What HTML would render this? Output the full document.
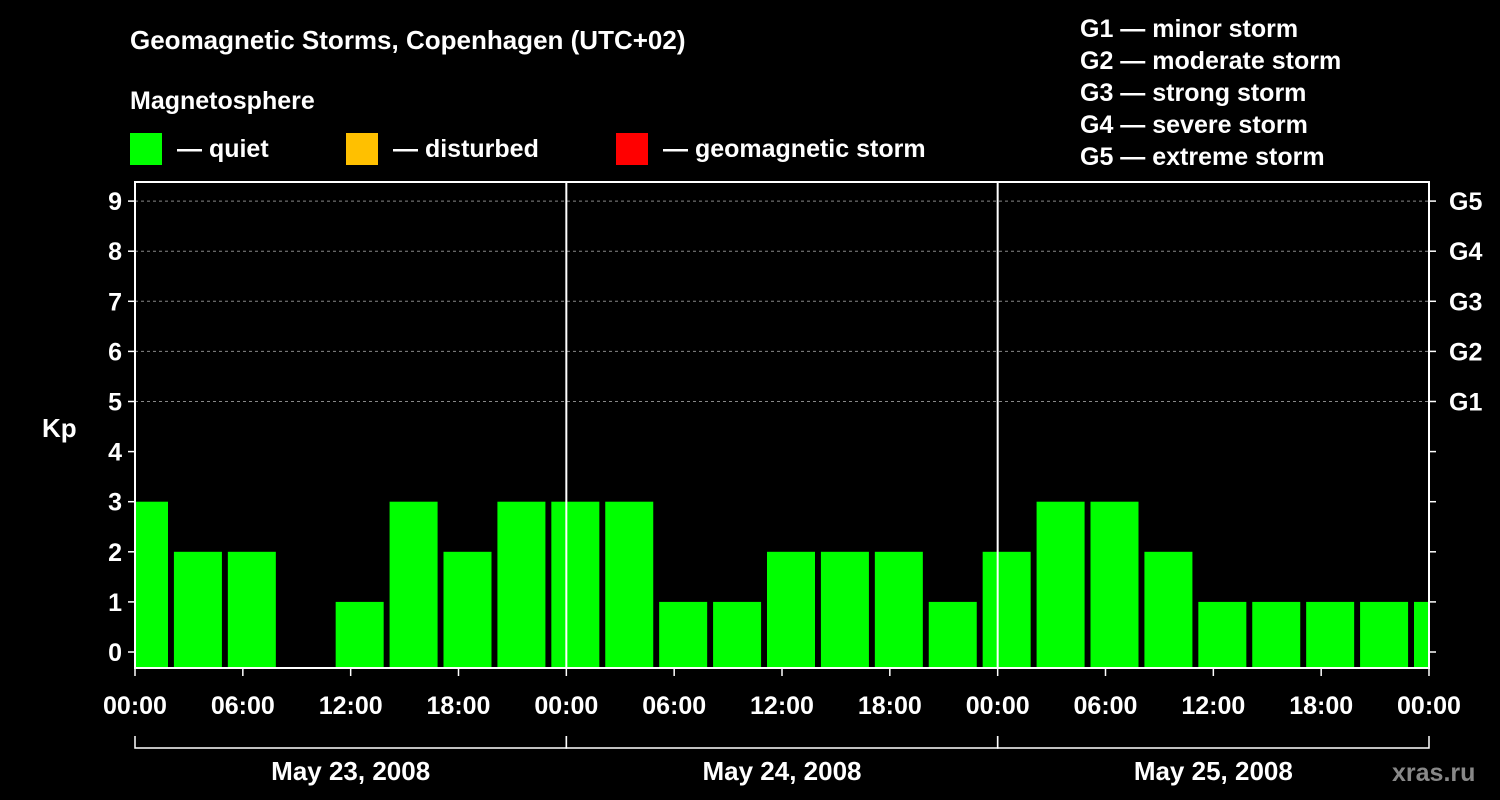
<!DOCTYPE html>
<html><head><meta charset="utf-8"><style>
body{margin:0;background:#000;width:1500px;height:800px;overflow:hidden}
svg{display:block;font-family:"Liberation Sans",Arial,sans-serif;font-weight:bold;fill:#fff}
</style></head><body>
<svg id="c" width="1500" height="800">
<text x="130" y="49" font-size="26">Geomagnetic Storms, Copenhagen (UTC+02)</text>
<text x="130" y="109" font-size="25">Magnetosphere</text>
<g>
<rect x="130" y="133" width="32" height="32" fill="#00ff00"/>
<text x="177" y="157" font-size="25">— quiet</text>
<rect x="346" y="133" width="32" height="32" fill="#ffc000"/>
<text x="393" y="157" font-size="25">— disturbed</text>
<rect x="616" y="133" width="32" height="32" fill="#ff0000"/>
<text x="663" y="157" font-size="25">— geomagnetic storm</text>
</g>
<g font-size="25">
<text x="1080" y="37">G1 — minor storm</text>
<text x="1080" y="69">G2 — moderate storm</text>
<text x="1080" y="101">G3 — strong storm</text>
<text x="1080" y="133">G4 — severe storm</text>
<text x="1080" y="165">G5 — extreme storm</text>
</g>
<g id="plot"></g>
<text x="42" y="437" font-size="26">Kp</text>
<text x="1392" y="781" font-size="25" fill="#888" style="fill:#888">xras.ru</text>
</svg>
<script>
const kpValues=[3,2,2,null,1,3,2,3,3,3,1,1,2,2,2,1,2,3,3,2,1,1,1,1,1];
const yTicks=[0,1,2,3,4,5,6,7,8,9];
const gLabels=["G1","G2","G3","G4","G5"];
const xTickLabels=["00:00","06:00","12:00","18:00","00:00","06:00","12:00","18:00","00:00","06:00","12:00","18:00","00:00"];
const dateLabels=["May 23, 2008","May 24, 2008","May 25, 2008"];
const NS="http://www.w3.org/2000/svg";
const L=135,R=1429,T=182,B=668;
const hourW=(R-L)/72;
const y=k=>652-50.1*k;
const x=h=>L+h*hourW;
const g=document.getElementById('plot');
function mk(t,a){const e=document.createElementNS(NS,t);for(const k in a)e.setAttribute(k,a[k]);g.appendChild(e);return e;}
// grid
yTicks.forEach(k=>{
 if(k>=5){const l=mk('line',{x1:L,x2:R,y1:y(k),y2:y(k),stroke:'#888','stroke-dasharray':'3,3','stroke-width':1});
 
 }
 const t=mk('line',{x1:L-7,x2:L,y1:y(k),y2:y(k),stroke:'#fff','stroke-width':1.5});
 
 
 const t2=mk('line',{x1:R,x2:R+7,y1:y(k),y2:y(k),stroke:'#fff','stroke-width':1.5});
 
 
 const tx=mk('text',{x:L-13,y:y(k)+9,'font-size':25,'text-anchor':'end'});tx.textContent=k;
 
 
});
gLabels.forEach((s,i)=>{const tx=mk('text',{x:R+20,y:y(5+i)+9,'font-size':25});tx.textContent=s;
 
 });
// clip
const cp=mk('clipPath',{id:'cl'});const cr=document.createElementNS(NS,'rect');
cr.setAttribute('x',L);cr.setAttribute('y',T);cr.setAttribute('width',R-L);cr.setAttribute('height',B-T);cp.appendChild(cr);
kpValues.forEach((v,i)=>{
 if(v===null)return;
 const cx=x(i*3)+9*hourW/9*1;
 const c=L+(i*3+0.5)*hourW*3/3+ (9-0.5*hourW)*0;
 const center=x(i*3)+9;
 const b=mk('rect',{x:center-24,y:y(v),width:48,height:B-y(v),fill:'#00ff00','clip-path':'url(#cl)'});
 
 
});
[24,48].forEach(h=>{const l=mk('line',{x1:x(h),x2:x(h),y1:T,y2:B,stroke:'#fff','stroke-width':2});
 
 });
const fr=mk('rect',{x:L,y:T,width:R-L,height:B-T,fill:'none',stroke:'#fff','stroke-width':2});


xTickLabels.forEach((s,i)=>{const xx=x(i*6);
 const t=mk('line',{x1:xx,x2:xx,y1:B,y2:B+8,stroke:'#fff','stroke-width':1.5});
 
 
 const tx=mk('text',{x:xx,y:714,'font-size':25,'text-anchor':'middle'});tx.textContent=s;
 
 });
dateLabels.forEach((s,i)=>{const a=x(i*24),b=x(i*24+24);
 const p=mk('path',{d:`M${a},736V748H${b}V736`,stroke:'#fff','stroke-width':1.5,fill:'none'});
 
 
 const tx=mk('text',{x:(a+b)/2,y:780,'font-size':26,'text-anchor':'middle'});tx.textContent=s;
 
 });
</script>
</body></html>
